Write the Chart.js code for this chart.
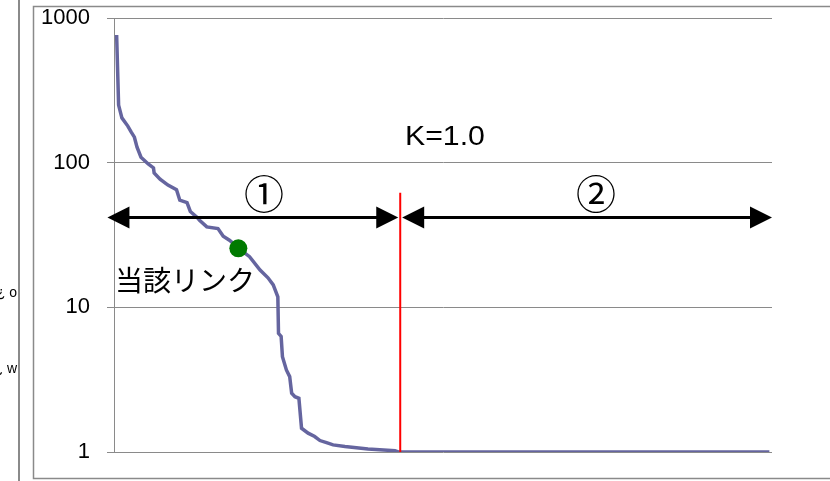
<!DOCTYPE html>
<html>
<head>
<meta charset="utf-8">
<script src="https://cdn.jsdelivr.net/npm/chart.js@4/dist/chart.umd.min.js"></script>
<style>
html,body{margin:0;padding:0;background:#fff;}
#wrap{width:830px;height:481px;position:relative;}
</style>
</head>
<body>
<div id="wrap"><canvas id="c" width="830" height="481"></canvas></div>
<script>
// ranked links (x = rank position, %) and their values (log scale)
const rank = [0.4,0.7,1.2,2.1,2.6,3.1,3.5,4.1,5.2,6.0,6.1,7.0,8.2,9.5,10.0,11.1,11.6,12.6,13.0,14.1,15.8,16.6,17.6,18.9,20.6,22.2,23.4,24.2,24.9,25.0,25.4,25.6,26.2,26.7,27.0,27.5,28.1,28.5,29.5,30.5,31.3,32.3,33.3,35.1,38.6,42.7,43.2,99.6];
const value = [763,250,204,179,163,150,128,109,98,92,85,77,70,65,55,53,46,42,40,36,35,31,29,25.6,22.4,18.1,16.0,14.3,11.8,6.6,6.3,4.56,3.69,3.32,2.55,2.41,2.35,1.46,1.35,1.28,1.2,1.16,1.12,1.09,1.05,1.02,1,1];
const yTicks = [1,10,100,1000];
const markRank = [18.9];          // 当該リンク
const markValue = [25.6];
const kLineRank = [43.5, 43.5];   // K=1.0 boundary
const kLineValue = [1, 62];
const arrow1 = [-1.0, 43.2];      // region ①
const arrow2 = [43.8, 100];       // region ②
const arrowValue = 42;

const overlay = {
  id: 'overlay',
  beforeDraw(chart) {
    const ctx = chart.ctx;
    ctx.save();
    ctx.fillStyle = '#fff';
    ctx.fillRect(0, 0, chart.width, chart.height);
    ctx.strokeStyle = '#8a8a8a';
    ctx.lineWidth = 2;
    ctx.beginPath(); ctx.moveTo(19, 0); ctx.lineTo(19, 481); ctx.stroke();
    ctx.lineWidth = 1.5;
    ctx.beginPath();
    ctx.moveTo(840, 6.5); ctx.lineTo(33.5, 6.5); ctx.lineTo(33.5, 478.5); ctx.lineTo(840, 478.5);
    ctx.stroke();
    ctx.fillStyle = '#000';
    ctx.font = '14px "Liberation Sans"';
    ctx.textAlign = 'right';
    ctx.textBaseline = 'middle';
    ctx.fillText('¿ o', 17, 293);
    ctx.fillText('¿ w', 17, 369);
    ctx.restore();
  },
  afterDatasetsDraw(chart) {
    const ctx = chart.ctx;
    const xs = chart.scales.x, ys = chart.scales.y;
    const ay = Math.round(ys.getPixelForValue(arrowValue)) + 0.5;
    function arrow(a, b) {
      const x1 = xs.getPixelForValue(a), x2 = xs.getPixelForValue(b);
      const hl = 22, hh = 11;
      ctx.strokeStyle = '#000';
      ctx.fillStyle = '#000';
      ctx.lineWidth = 3;
      ctx.beginPath(); ctx.moveTo(x1 + hl - 2, ay); ctx.lineTo(x2 - hl + 2, ay); ctx.stroke();
      ctx.beginPath(); ctx.moveTo(x1, ay); ctx.lineTo(x1 + hl, ay - hh); ctx.lineTo(x1 + hl, ay + hh); ctx.closePath(); ctx.fill();
      ctx.beginPath(); ctx.moveTo(x2, ay); ctx.lineTo(x2 - hl, ay - hh); ctx.lineTo(x2 - hl, ay + hh); ctx.closePath(); ctx.fill();
    }
    ctx.save();
    arrow(arrow1[0], arrow1[1]);
    arrow(arrow2[0], arrow2[1]);
    ctx.fillStyle = '#000';
    ctx.textBaseline = 'middle';
    ctx.textAlign = 'center';
    ctx.font = '40px "Noto Sans CJK JP"';
    ctx.fillText('①', 264, 194);
    ctx.fillText('②', 596, 194);
    ctx.save();
    ctx.translate(405, 138);
    ctx.scale(1.12, 1);
    ctx.textAlign = 'left';
    ctx.font = '27px "Liberation Sans"';
    ctx.fillText('K=1.0', 0, 0);
    ctx.restore();
    ctx.textAlign = 'left';
    ctx.font = '28px "Noto Sans CJK JP"';
    ctx.fillText('当該リンク', 115, 280);
    ctx.restore();
  }
};

new Chart(document.getElementById('c'), {
  type: 'line',
  data: {
    datasets: [
      {
        data: kLineRank.map((r, i) => ({x: r, y: kLineValue[i]})),
        borderColor: '#ff0000', borderWidth: 2, pointRadius: 0, tension: 0, order: 1
      },
      {
        data: rank.map((r, i) => ({x: r, y: value[i]})),
        borderColor: '#65659f', borderWidth: 3.5, pointRadius: 0, tension: 0, order: 2
      },
      {
        data: markRank.map((r, i) => ({x: r, y: markValue[i]})),
        showLine: false, pointRadius: 9, pointBackgroundColor: '#007a00',
        pointBorderColor: '#007a00', pointBorderWidth: 0, order: 0
      }
    ]
  },
  options: {
    responsive: false,
    animation: false,
    devicePixelRatio: 1,
    layout: { padding: { left: 0, right: 58, top: 18, bottom: 29 } },
    plugins: { legend: { display: false }, tooltip: { enabled: false } },
    scales: {
      x: { type: 'linear', min: 0, max: 100, display: false },
      y: {
        type: 'logarithmic', min: 1, max: 1000,
        afterBuildTicks: s => { s.ticks = yTicks.map(v => ({value: v})); },
        afterFit: s => { s.width = 114; s.paddingTop = 0; s.paddingBottom = 0; },
        ticks: {
          callback: v => String(v),
          color: '#000',
          font: { family: '"Liberation Sans"', size: 22 },
          padding: 17
        },
        grid: { color: '#8a8a8a', lineWidth: 1, tickLength: 7 },
        border: { color: '#8a8a8a', width: 1 }
      }
    }
  },
  plugins: [overlay]
});
</script>
</body>
</html>
